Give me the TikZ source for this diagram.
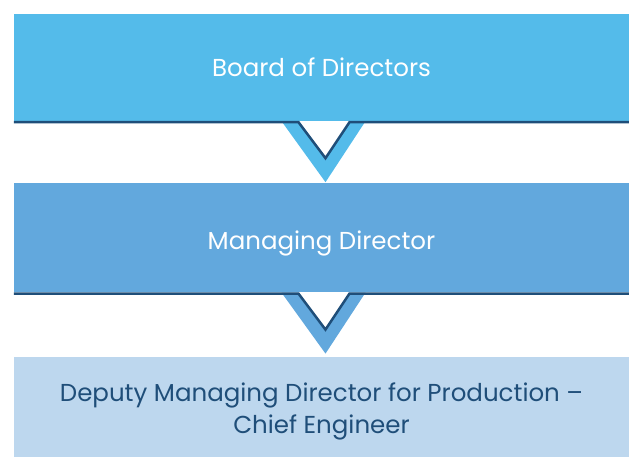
\documentclass[tikz,border=0pt]{standalone}
\usepackage{fontspec}
\setmainfont{Poppins}
\usetikzlibrary{positioning,calc}

\definecolor{boardblue}{HTML}{54BBEA}
\definecolor{mdblue}{HTML}{62A8DD}
\definecolor{deputyblue}{HTML}{BDD7EE}
\definecolor{darkline}{HTML}{1F4E79}

\tikzset{
  tier/.style={rectangle, minimum width=615pt, inner sep=0pt, text=white,
    align=center, font=\fontsize{24.5}{32}\selectfont},
  edgeline/.style={darkline, line width=2.5pt},
}

\begin{document}
\begin{tikzpicture}[x=1pt, y=-1pt, node distance=62pt]
    \useasboundingbox (0,0) rectangle (629,457);
    \node[tier, fill=boardblue, minimum height=107pt] (board) at (321.5,67.5) {Board of Directors};
    \node[tier, fill=mdblue, minimum height=109pt, text height=29pt, below=62pt of board] (md) {Managing Director};
    \node[tier, fill=deputyblue, text=darkline, minimum height=101pt, text height=60pt, below=64pt of md] (deputy) {Deputy Managing Director for Production --\\Chief Engineer};
    % V shaped links
    \fill[boardblue] ($(board.south)+(-40,0)$) -- ($(board.south)+(4,61)$) -- ($(board.south)+(44,0)$)
        -- ($(board.south)+(28,0)$) -- ($(board.south)+(4,36)$) -- ($(board.south)+(-23,0)$) -- cycle;
    \draw[edgeline] ($(board.south west)+(0,1)$) -- ($(board.south)+(-23,1)$) -- ($(board.south)+(4,37)$)
        -- ($(board.south)+(28,1)$) -- ($(board.south east)+(0,1)$);
    \fill[mdblue] ($(md.south)+(-40,0)$) -- ($(md.south)+(4,61)$) -- ($(md.south)+(44,0)$)
        -- ($(md.south)+(28,0)$) -- ($(md.south)+(4,36)$) -- ($(md.south)+(-23,0)$) -- cycle;
    \draw[edgeline] ($(md.south west)+(0,1)$) -- ($(md.south)+(-23,1)$) -- ($(md.south)+(4,37)$)
        -- ($(md.south)+(28,1)$) -- ($(md.south east)+(0,1)$);
\end{tikzpicture}
\end{document}
